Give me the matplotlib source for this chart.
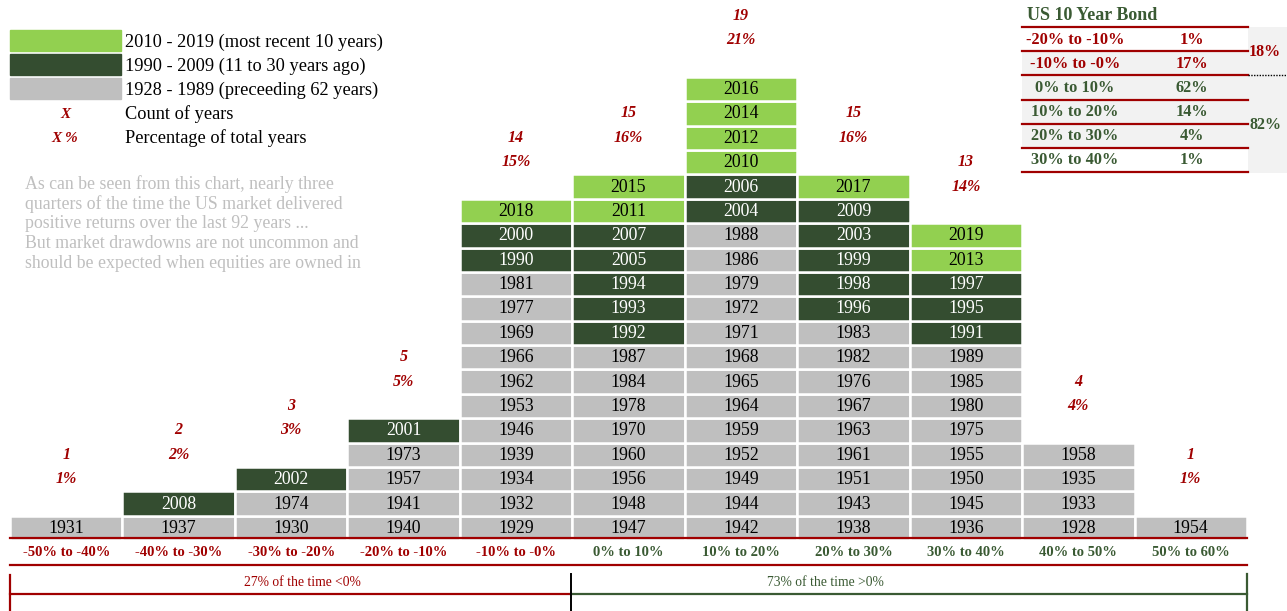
import matplotlib.pyplot as plt
from matplotlib.patches import Rectangle

plt.rcParams['font.family'] = ['Liberation Serif', 'DejaVu Serif']

bins = ['-50% to -40%', '-40% to -30%', '-30% to -20%', '-20% to -10%', '-10% to -0%',
        '0% to 10%', '10% to 20%', '20% to 30%', '30% to 40%', '40% to 50%', '50% to 60%']
years = [
    [1931],
    [1937, 2008],
    [1930, 1974, 2002],
    [1940, 1941, 1957, 1973, 2001],
    [1929, 1932, 1934, 1939, 1946, 1953, 1962, 1966, 1969, 1977, 1981, 1990, 2000, 2018],
    [1947, 1948, 1956, 1960, 1970, 1978, 1984, 1987, 1992, 1993, 1994, 2005, 2007, 2011, 2015],
    [1942, 1944, 1949, 1952, 1959, 1964, 1965, 1968, 1971, 1972, 1979, 1986, 1988, 2004, 2006,
     2010, 2012, 2014, 2016],
    [1938, 1943, 1951, 1961, 1963, 1967, 1976, 1982, 1983, 1996, 1998, 1999, 2003, 2009, 2017],
    [1936, 1945, 1950, 1955, 1975, 1980, 1985, 1989, 1991, 1995, 1997, 2013, 2019],
    [1928, 1933, 1935, 1958],
    [1954],
]
pcts = [1, 2, 3, 5, 15, 16, 21, 16, 14, 4, 1]

legend_labels = ['2010 - 2019 (most recent 10 years)', '1990 - 2009 (11 to 30 years ago)',
                 '1928 - 1989 (preceeding 62 years)']
note_lines = ['As can be seen from this chart, nearly three',
              'quarters of the time the US market delivered',
              'positive returns over the last 92 years ...',
              'But market drawdowns are not uncommon and',
              'should be expected when equities are owned in']

bond_ranges = ['-20% to -10%', '-10% to -0%', '0% to 10%', '10% to 20%', '20% to 30%', '30% to 40%']
bond_pcts = ['1%', '17%', '62%', '14%', '4%', '1%']
bond_neg, bond_pos = '18%', '82%'
share_neg, share_pos = '27% of the time <0%', '73% of the time >0%'

LIGHT = '#92D050'
DARK = '#344D30'
GREY = '#BFBFBF'
RED = '#A00000'
GREEN = '#3A5A33'


def cell_colour(y):
    if y >= 2010:
        return LIGHT
    if y >= 1990:
        return DARK
    return GREY


fig = plt.figure(figsize=(12.87, 6.11), dpi=100)

# main grid of years: x = bin index, y = row index
pitch = 24.39
base_px = 540.2
top_row = base_px / pitch - 0.5
ax = fig.add_axes([10 / 1287, (611 - base_px) / 611, 1237 / 1287, base_px / 611])
ax.set_xlim(-0.5, len(bins) - 0.5)
ax.set_ylim(-0.5, top_row)
for s in ax.spines.values():
    s.set_visible(False)
ax.set_yticks([])

for c, ys in enumerate(years):
    for r, y in enumerate(ys):
        ax.bar(c, 1, bottom=r - 0.5, width=1, color=cell_colour(y),
               edgecolor='white', linewidth=1.8)
        ax.text(c, r - 0.02, str(y), ha='center', va='center', fontsize=12.8,
                color='white' if cell_colour(y) == DARK else 'black')
    n = len(ys)
    ax.text(c, n + 1, f'{pcts[c]}%', ha='center', va='center', fontsize=11.5,
            color=RED, fontweight='bold', style='italic')
    ax.text(c, n + 2, str(n), ha='center', va='center', fontsize=11.5,
            color=RED, fontweight='bold', style='italic')

ax.set_xticks(range(len(bins)), bins, fontsize=10.5, fontweight='bold')
ax.tick_params(axis='x', length=0, pad=4)
for i, t in enumerate(ax.get_xticklabels()):
    t.set_color(RED if i < 5 else GREEN)

# overlay in pixel coordinates for legend, notes, table and brackets
ov = fig.add_axes([0, 0, 1, 1], facecolor='none')
ov.set_xlim(0, 1287)
ov.set_ylim(611, 0)
ov.axis('off')

ov.plot([10, 1247], [538, 538], color=RED, lw=1.6)
ov.plot([10, 1247], [565, 565], color=RED, lw=1.6)

# legend
for i, (col, lab) in enumerate(zip([LIGHT, DARK, GREY], legend_labels)):
    ov.add_patch(Rectangle((10, 30 + 24 * i), 111, 21, color=col))
    ov.text(125, 42 + 24 * i, lab, va='center', fontsize=13.2)
ov.text(65, 114, 'X', ha='center', va='center', fontsize=11, color=RED,
        fontweight='bold', style='italic')
ov.text(65, 138, 'X %', ha='center', va='center', fontsize=11, color=RED,
        fontweight='bold', style='italic')
ov.text(125, 114, 'Count of years', va='center', fontsize=13.2)
ov.text(125, 138, 'Percentage of total years', va='center', fontsize=13.2)

for i, line in enumerate(note_lines):
    ov.text(25, 184 + 19.8 * i, line, va='center', fontsize=12.8, color=GREY)

# bond table
ov.text(1027, 16, 'US 10 Year Bond', va='center', fontsize=13, fontweight='bold', color=GREEN)
ov.add_patch(Rectangle((1248, 27), 39, 146, color='#F2F2F2', lw=0))
row_y = [27 + 24.2 * i for i in range(7)]
for i, (rng, p) in enumerate(zip(bond_ranges, bond_pcts)):
    if 0 < i < 5:
        ov.add_patch(Rectangle((1022, row_y[i]), 226, 24.2, color='#F2F2F2', lw=0))
    col = RED if i < 2 else GREEN
    ym = row_y[i] + 12.5
    ov.text(1075, ym, rng, ha='center', va='center', fontsize=11.8, fontweight='bold', color=col)
    ov.text(1192, ym, p, ha='center', va='center', fontsize=11.8, fontweight='bold', color=col)
for y in row_y:
    ov.plot([1022, 1248], [y, y], color=RED, lw=1.6)
ov.plot([1248, 1287], [75, 75], color='black', lw=1, ls=(0, (1, 1)))
ov.text(1265, 52, bond_neg, ha='center', va='center', fontsize=11.5, fontweight='bold', color=RED)
ov.text(1265, 125, bond_pos, ha='center', va='center', fontsize=11.5, fontweight='bold', color=GREEN)

# bottom brackets
ov.plot([10, 10], [575, 611], color=RED, lw=1.6)
ov.plot([10, 571], [594, 594], color=RED, lw=1.6)
ov.plot([571, 1247], [594, 594], color=GREEN, lw=1.6)
ov.plot([571, 571], [574, 611], color='black', lw=1.4)
ov.plot([1247, 1247], [574, 611], color=GREEN, lw=1.6)
ov.text(302, 583, share_neg, ha='center', va='center', fontsize=9.8, color=RED)
ov.text(825, 583, share_pos, ha='center', va='center', fontsize=9.8, color=GREEN)

fig.savefig('out.png', dpi=100)
plt.close(fig)
